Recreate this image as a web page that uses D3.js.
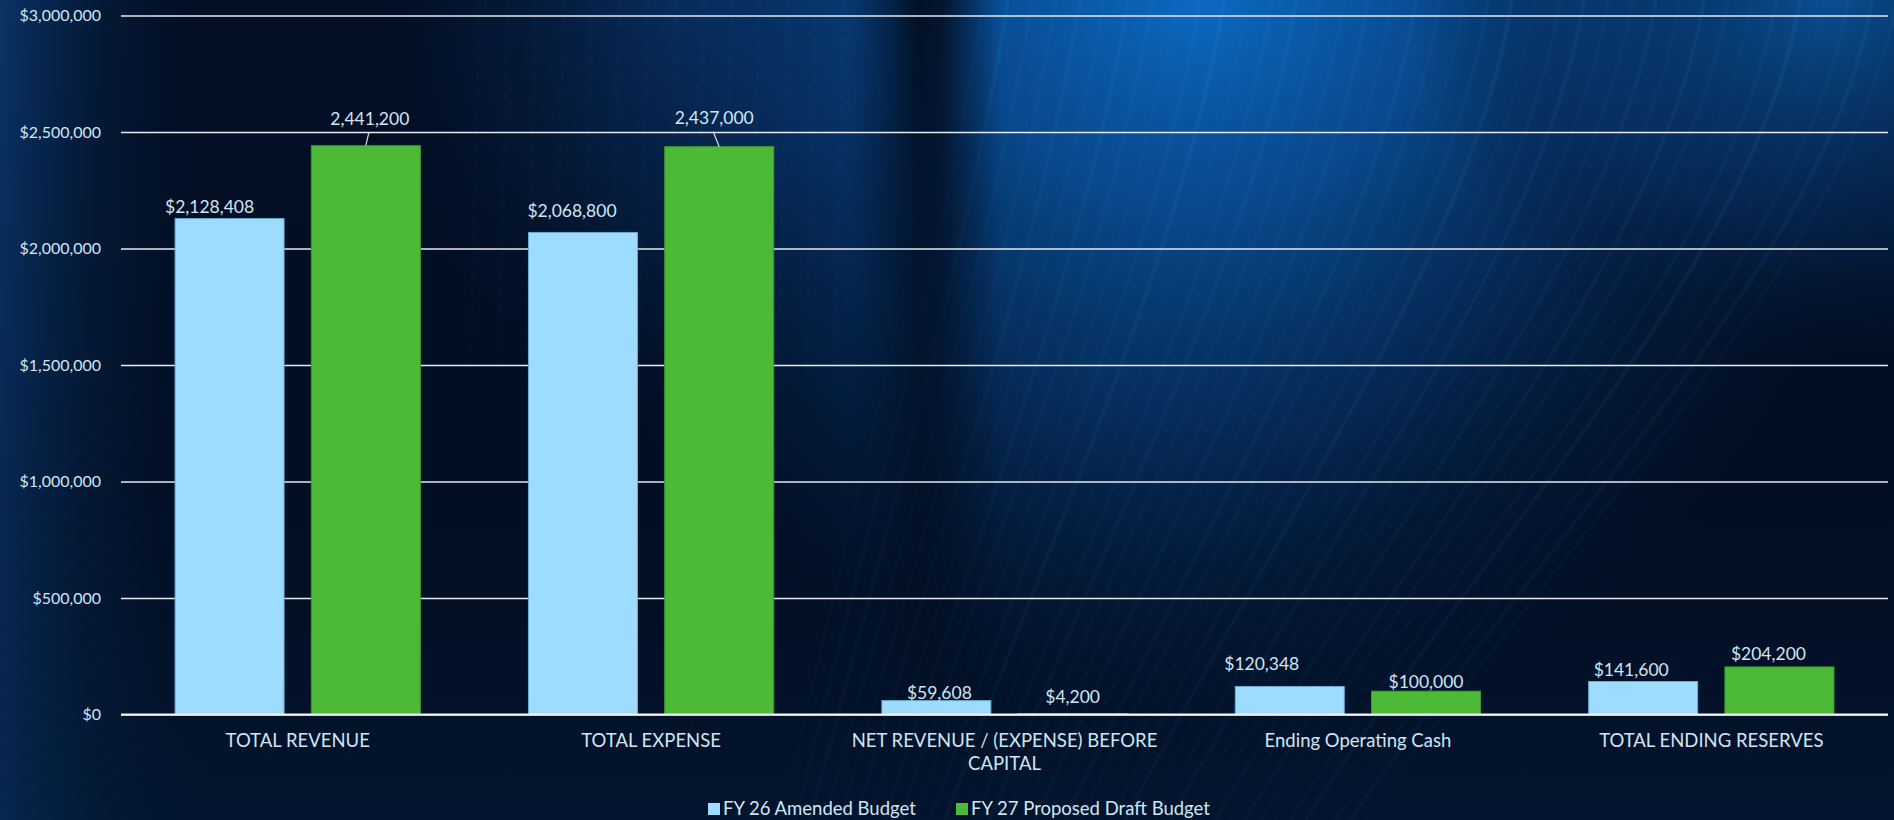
<!DOCTYPE html>
<html>
<head>
<meta charset="utf-8">
<script src="https://cdn.jsdelivr.net/npm/d3@7/dist/d3.min.js"></script>
<style>
  html, body { margin: 0; padding: 0; background: #03122a; overflow: hidden; }
  svg { display: block; }
  text { font-family: Lato, "Open Sans", sans-serif; }
</style>
</head>
<body>
<svg id="chart" width="1894" height="820"></svg>
<script>
// ---- data ----
const categories = ["TOTAL REVENUE", "TOTAL EXPENSE", "NET REVENUE / (EXPENSE) BEFORE CAPITAL", "Ending Operating Cash", "TOTAL ENDING RESERVES"];
const seriesNames = ["FY 26 Amended Budget", "FY 27 Proposed Draft Budget"];
const fy26Values = [2128408, 2068800, 59608, 120348, 141600];
const fy27Values = [2441200, 2437000, 4200, 100000, 204200];
const fy26Labels = ["$2,128,408", "$2,068,800", "$59,608", "$120,348", "$141,600"];
const fy27Labels = ["2,441,200", "2,437,000", "$4,200", "$100,000", "$204,200"];
const yTicks = [0, 500000, 1000000, 1500000, 2000000, 2500000, 3000000];

// ---- layout (label nudges as in the original, relative to bar centre / top) ----
const labelNudge26 = [[-20, -12], [-11, -22], [3, -8], [-28, -23], [-12, -12]];
const labelNudge27 = [[4, -27], [-5, -29], [0, -17], [0, -9], [-11, -13]];
const leader27 = [true, true, false, false, false];

const W = 1894, H = 820;
const M = { left: 121, right: 6, top: 15, bottom: 106 };
const colors = ["#9ddcfe", "#4cb937"];
const strokes = ["#6ea9cf", "#3f9a2e"];
const textColor = "#cfe6f4";

const svg = d3.select("#chart");
const defs = svg.append("defs");

// ---- background ----
function radial(id, stops) {
  const g = defs.append("radialGradient").attr("id", id);
  stops.forEach(([o, c, a]) => g.append("stop").attr("offset", o).attr("stop-color", c).attr("stop-opacity", a));
}
function linear(id, x1, y1, x2, y2, stops) {
  const g = defs.append("linearGradient").attr("id", id).attr("x1", x1).attr("y1", y1).attr("x2", x2).attr("y2", y2);
  stops.forEach(([o, c, a]) => g.append("stop").attr("offset", o).attr("stop-color", c).attr("stop-opacity", a));
}
radial("glowMain", [[0, "#0c69c2", 1], [0.3, "#0a58a8", 0.85], [0.6, "#083f7e", 0.55], [0.85, "#052a58", 0.22], [1, "#03122a", 0]]);
radial("glowRight", [[0, "#0b57a2", 0.85], [0.6, "#083f7e", 0.4], [1, "#03122a", 0]]);
radial("glowMid", [[0, "#0a3366", 0.7], [0.6, "#072650", 0.35], [1, "#03122a", 0]]);
radial("glowLow", [[0, "#073d78", 0.55], [0.6, "#052c5a", 0.3], [1, "#03122a", 0]]);
linear("leftG", 0, 0, 1, 0, [[0, "#0b3a72", 0.85], [0.5, "#06244a", 0.4], [1, "#03122a", 0]]);
linear("darkBand", 0, 0, 1, 0, [[0, "#020c1f", 0], [0.45, "#020b1c", 0.9], [0.6, "#020b1c", 0.85], [1, "#020c1f", 0]]);
linear("bandFade", 0, 0, 0, 1, [[0, "#fff", 1], [0.7, "#fff", 0.6], [1, "#fff", 0]]);
linear("bottomG", 0, 0, 0, 1, [[0, "#020e22", 0], [0.6, "#020d20", 0.3], [1, "#031a36", 0.5]]);
defs.append("mask").attr("id", "bandMask").append("rect").attr("width", W).attr("height", H).attr("fill", "url(#bandFade)");
defs.append("filter").attr("id", "soft").append("feGaussianBlur").attr("stdDeviation", 1.2);

svg.append("rect").attr("width", W).attr("height", H).attr("fill", "#020f25");
svg.append("rect").attr("width", 220).attr("height", H).attr("fill", "url(#leftG)");
svg.append("ellipse").attr("cx", 680).attr("cy", 0).attr("rx", 320).attr("ry", 420).attr("fill", "url(#glowMid)");
svg.append("ellipse").attr("cx", 1130).attr("cy", 380).attr("rx", 420).attr("ry", 300).attr("fill", "url(#glowLow)");
svg.append("ellipse").attr("cx", 1200).attr("cy", 0).attr("rx", 720).attr("ry", 760).attr("fill", "url(#glowMain)");
svg.append("ellipse").attr("cx", 1830).attr("cy", 0).attr("rx", 420).attr("ry", 380).attr("fill", "url(#glowRight)");

// faint light streaks (texture)
const streaks = svg.append("g").attr("filter", "url(#soft)");
for (let i = 0; i < 40; i++) {
  const xs = 960 + i * 24;
  const bend = 180 + i * 9;
  streaks.append("path")
    .attr("d", `M${xs},0 C${xs - 40},${250} ${xs - bend * 0.6},${520} ${xs - bend},${820}`)
    .attr("fill", "none").attr("stroke", "#5fb2ff")
    .attr("stroke-opacity", 0.05 + (i % 4) * 0.015)
    .attr("stroke-width", 1.5 + (i % 3));
}
for (let i = 0; i < 14; i++) {
  const xs = 480 + i * 28;
  streaks.append("line").attr("x1", xs).attr("x2", xs - 10).attr("y1", 0).attr("y2", 380)
    .attr("stroke", "#3f86d6").attr("stroke-opacity", 0.05).attr("stroke-width", 3)
    .attr("stroke-dasharray", "10 8");
}
for (let i = 0; i < 18; i++) {
  const ys = 380 + i * 26;
  streaks.append("line").attr("x1", 0).attr("y1", ys + 160).attr("x2", 140).attr("y2", ys)
    .attr("stroke", "#4a8fd8").attr("stroke-opacity", 0.06).attr("stroke-width", 1.5);
}
svg.append("rect").attr("x", 850).attr("y", 0).attr("width", 150).attr("height", H)
  .attr("fill", "url(#darkBand)").attr("mask", "url(#bandMask)");
svg.append("rect").attr("width", W).attr("height", H).attr("fill", "url(#bottomG)");

// ---- scales ----
const x0 = d3.scaleBand().domain(categories).range([M.left, W - M.right]).paddingInner(0).paddingOuter(0);
const inset = x0.bandwidth() * 0.153;
const x1 = d3.scaleBand().domain([0, 1]).range([inset, x0.bandwidth() - inset]).paddingInner(0.2).paddingOuter(0);
const y = d3.scaleLinear().domain([0, 3000000]).range([714.5, M.top + 0.5]);

// ---- gridlines ----
const grid = svg.append("g").attr("transform", `translate(${M.left},0)`)
  .call(d3.axisLeft(y).tickValues(yTicks).tickSize(-(W - M.right - M.left)).tickFormat(""));
grid.select(".domain").remove();
grid.selectAll(".tick line").attr("stroke", "#e6e9ee").attr("stroke-width", 1.4);

// ---- y labels ----
const yAxis = svg.append("g").attr("transform", `translate(${101},0)`)
  .call(d3.axisLeft(y).tickValues(yTicks).tickSize(0).tickPadding(0).tickFormat(d3.format("$,.0f")));
yAxis.select(".domain").remove();
yAxis.selectAll("text").attr("fill", textColor).attr("font-size", 16).attr("font-family", "Lato, sans-serif");

// ---- bars ----
const series = [fy26Values, fy27Values];
const labels = [fy26Labels, fy27Labels];
const nudges = [labelNudge26, labelNudge27];
const gBars = svg.append("g");
series.forEach((vals, s) => {
  gBars.selectAll(".bar" + s).data(vals).join("rect")
    .attr("x", (d, i) => x0(categories[i]) + x1(s))
    .attr("width", x1.bandwidth())
    .attr("y", d => y(d))
    .attr("height", d => Math.max(1, y(0) - y(d)))
    .attr("fill", colors[s])
    .attr("stroke", strokes[s]).attr("stroke-width", 1);
});

// zero line on top
svg.append("line").attr("x1", M.left).attr("x2", W - M.right)
  .attr("y1", y(0)).attr("y2", y(0)).attr("stroke", "#f2f4f7").attr("stroke-width", 2);

// ---- data labels ----
const gLab = svg.append("g");
series.forEach((vals, s) => {
  vals.forEach((v, i) => {
    const cx = x0(categories[i]) + x1(s) + x1.bandwidth() / 2;
    const top = y(v);
    const [dx, dy] = nudges[s][i];
    gLab.append("text")
      .attr("x", cx + dx).attr("y", top + dy)
      .attr("dy", "0.35em")
      .attr("text-anchor", "middle")
      .attr("fill", textColor).attr("font-size", 17.5)
      .text(labels[s][i]);
    if (s === 1 && leader27[i]) {
      gLab.append("line")
        .attr("x1", cx + dx - 1).attr("y1", top + dy + 14)
        .attr("x2", cx).attr("y2", top)
        .attr("stroke", "#d9dde3").attr("stroke-width", 1.2);
    }
  });
});

// ---- x axis labels ----
const catFont = 18.5;
const xAxis = svg.append("g").attr("transform", `translate(0,${y(0)})`)
  .call(d3.axisBottom(x0).tickSize(0).tickPadding(0));
xAxis.select(".domain").remove();
xAxis.selectAll(".tick text").each(function(d) {
  const t = d3.select(this);
  t.text(null).attr("fill", textColor).attr("font-size", catFont).attr("y", 0).attr("dy", null);
  const words = d.split(" ");
  const maxW = 320;
  let lines = [], line = [];
  const probe = svg.append("text").attr("font-size", catFont).attr("font-family", "Lato, sans-serif");
  words.forEach(w => {
    const test = line.concat([w]).join(" ");
    probe.text(test);
    if (probe.node().getComputedTextLength() > maxW && line.length) { lines.push(line.join(" ")); line = [w]; }
    else line.push(w);
  });
  lines.push(line.join(" "));
  probe.remove();
  lines.forEach((ln, k) => {
    t.append("tspan").attr("x", 0).attr("y", 32 + k * 23).text(ln);
  });
});

// ---- legend ----
const legend = svg.append("g").attr("transform", "translate(708,809)");
const legendX = [0, 248];
seriesNames.forEach((name, s) => {
  const g = legend.append("g").attr("transform", `translate(${legendX[s]},0)`);
  g.append("rect").attr("x", 0).attr("y", -6).attr("width", 12).attr("height", 12).attr("fill", colors[s]);
  g.append("text").attr("x", 15).attr("y", 0).attr("dy", "0.35em")
    .attr("fill", textColor).attr("font-size", 18.5).text(name);
});
</script>
</body>
</html>
